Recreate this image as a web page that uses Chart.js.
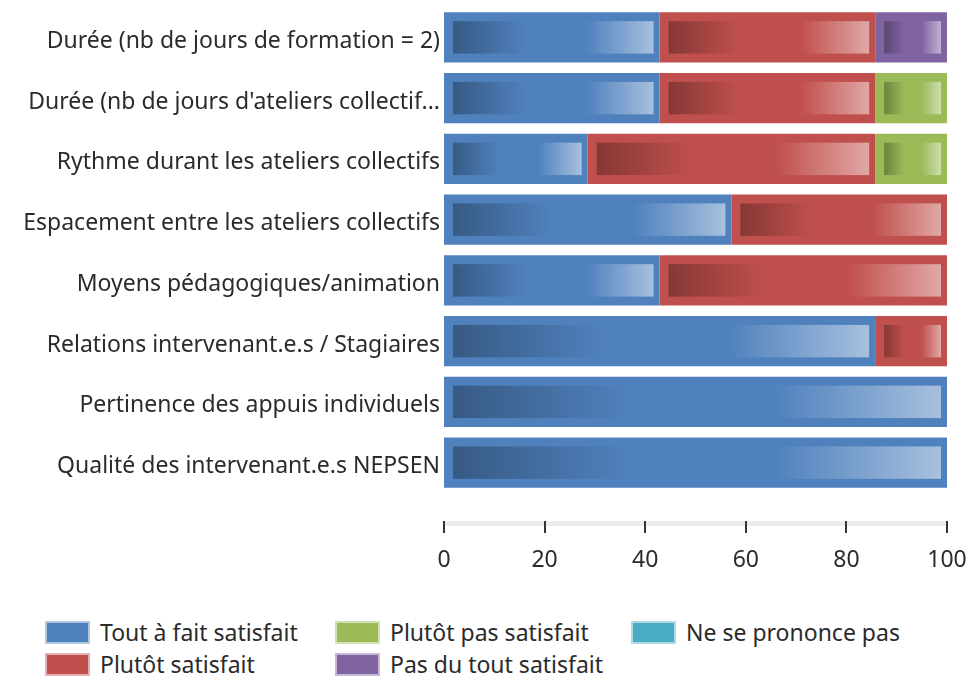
<!DOCTYPE html>
<html>
<head>
<meta charset="utf-8">
<script src="https://cdn.jsdelivr.net/npm/chart.js@4.4.1/dist/chart.umd.min.js"></script>
<style>
  html, body { margin: 0; padding: 0; background: #fff; }
  #wrap { position: relative; width: 973px; height: 677px; overflow: hidden; }
  #box { position: absolute; left: 0; top: 0; width: 973px; height: 600px; }
  #legend {
    position: absolute; left: 45px; top: 621px;
    display: grid; grid-template-columns: 290px 296px auto;
    row-gap: 9px;
    font-family: "Noto Sans", sans-serif; font-size: 23px; color: #2b2b2b;
  }
  .item { display: flex; align-items: center; height: 23px; line-height: 23px; }
  .swatch { width: 45px; height: 23px; margin-right: 10px; box-sizing: border-box; flex: none; }
</style>
</head>
<body>
<div id="wrap">
  <div id="box"><canvas id="bar-chart"></canvas></div>
  <div id="legend"></div>
</div>
<script>
var categories = [
  "Durée (nb de jours de formation = 2)",
  "Durée (nb de jours d'ateliers collectif...",
  "Rythme durant les ateliers collectifs",
  "Espacement entre les ateliers collectifs",
  "Moyens pédagogiques/animation",
  "Relations intervenant.e.s / Stagiaires",
  "Pertinence des appuis individuels",
  "Qualité des intervenant.e.s NEPSEN"
];
var toutAFait = [42.86, 42.86, 28.57, 57.14, 42.86, 85.71, 100, 100];
var plutotSatisfait = [42.86, 42.86, 57.14, 42.86, 57.14, 14.29, 0, 0];
var plutotPas = [0, 14.29, 14.29, 0, 0, 0, 0, 0];
var pasDuTout = [14.29, 0, 0, 0, 0, 0, 0, 0];
var neSePrononcePas = [0, 0, 0, 0, 0, 0, 0, 0];
var xTicks = [0, 20, 40, 60, 80, 100];

var seriesNames = ["Tout à fait satisfait", "Plutôt satisfait", "Plutôt pas satisfait", "Pas du tout satisfait", "Ne se prononce pas"];
var seriesColors = ["#4F81BD", "#C0504D", "#9BBB59", "#8064A2", "#4BACC6"];
var seriesData = [toutAFait, plutotSatisfait, plutotPas, pasDuTout, neSePrononcePas];

function shade(hex, f) {
  var n = parseInt(hex.slice(1), 16);
  var r = n >> 16, g = (n >> 8) & 255, b = n & 255;
  if (f < 0) { r = r * (1 + f); g = g * (1 + f); b = b * (1 + f); }
  else { r = r + (255 - r) * f; g = g + (255 - g) * f; b = b + (255 - b) * f; }
  return "rgb(" + Math.round(r) + "," + Math.round(g) + "," + Math.round(b) + ")";
}

// inner glossy gradient of each bar segment
var innerShine = {
  id: 'innerShine',
  afterDatasetsDraw: function(chart) {
    var ctx = chart.ctx;
    chart.data.datasets.forEach(function(ds, i) {
      var meta = chart.getDatasetMeta(i);
      if (meta.hidden) return;
      meta.data.forEach(function(el) {
        var p = el.getProps(['x', 'y', 'base', 'height'], true);
        var left = Math.min(p.x, p.base), right = Math.max(p.x, p.base);
        if (right - left < 20) return;
        var l = left + 9, r = right - 6, t = p.y - p.height / 2 + 9, b = p.y + p.height / 2 - 9;
        var g = ctx.createLinearGradient(l, 0, r, 0);
        g.addColorStop(0, shade(ds.backgroundColor, -0.3));
        g.addColorStop(0.36, ds.backgroundColor);
        g.addColorStop(0.66, ds.backgroundColor);
        g.addColorStop(1, shade(ds.backgroundColor, 0.5));
        ctx.save();
        ctx.fillStyle = g;
        ctx.fillRect(l, t, r - l, b - t);
        ctx.restore();
      });
    });
  }
};

// x axis line and tick marks set below the bars
var lowAxis = {
  id: 'lowAxis',
  afterDraw: function(chart) {
    var ctx = chart.ctx, sx = chart.scales.x;
    var yLine = sx.top + 31;
    ctx.save();
    ctx.fillStyle = "#ececec";
    ctx.fillRect(sx.left, yLine - 3, sx.right - sx.left, 5);
    ctx.fillStyle = "#333";
    xTicks.forEach(function(v) {
      var px = Math.round(sx.getPixelForValue(v));
      ctx.fillRect(px - 1, yLine - 3, 2, 12);
    });
    ctx.restore();
  }
};

function noPad(scale) {
  scale.paddingLeft = 0; scale.paddingRight = 0;
  scale.paddingTop = 0; scale.paddingBottom = 0;
}

var chart = new Chart(document.getElementById("bar-chart"), {
  type: 'bar',
  data: {
    labels: categories,
    datasets: seriesData.map(function(d, i) {
      return {
        label: seriesNames[i],
        data: d,
        backgroundColor: seriesColors[i],
        borderWidth: 0,
        barPercentage: 0.83,
        categoryPercentage: 1
      };
    })
  },
  options: {
    indexAxis: 'y',
    responsive: true,
    maintainAspectRatio: false,
    animation: false,
    layout: { padding: { left: 0, right: 26, top: 7, bottom: 29 } },
    plugins: {
      legend: { display: false },
      tooltip: { enabled: false }
    },
    scales: {
      x: {
        stacked: true,
        min: 0,
        max: 100,
        grid: { display: false, drawTicks: false },
        border: { display: false },
        afterFit: function(scale) { noPad(scale); scale.height = 78; },
        ticks: {
          stepSize: 20,
          padding: 54,
          maxRotation: 0,
          color: "#2b2b2b",
          font: { family: "Noto Sans", size: 23 }
        }
      },
      y: {
        stacked: true,
        offset: true,
        grid: { display: false, drawTicks: false },
        border: { display: false },
        afterFit: function(scale) { noPad(scale); scale.width = 444; },
        ticks: {
          padding: 4,
          labelOffset: 4,
          autoSkip: false,
          color: "#2b2b2b",
          font: { family: "Noto Sans", size: 23 }
        }
      }
    }
  },
  plugins: [innerShine, lowAxis]
});

// legend laid out in columns like the original
var order = [0, 2, 4, 1, 3];
var legend = document.getElementById("legend");
order.forEach(function(i) {
  var item = document.createElement("div");
  item.className = "item";
  var sw = document.createElement("span");
  sw.className = "swatch";
  sw.style.background = seriesColors[i];
  sw.style.border = "2px solid " + shade(seriesColors[i], 0.55);
  item.appendChild(sw);
  item.appendChild(document.createTextNode(seriesNames[i]));
  legend.appendChild(item);
});
</script>
</body>
</html>
